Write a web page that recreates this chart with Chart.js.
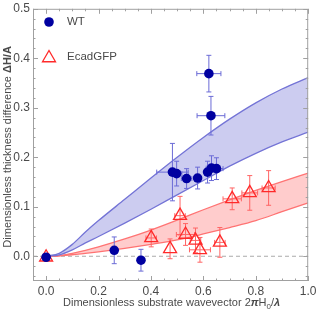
<!DOCTYPE html>
<html>
<head>
<meta charset="utf-8">
<script src="https://cdn.jsdelivr.net/npm/chart.js@4/dist/chart.umd.min.js"></script>
<style>
  html, body { margin: 0; padding: 0; background: #fff; }
  #wrap { width: 317px; height: 311px; }
</style>
</head>
<body>
<div id="wrap"><canvas id="chart" width="317" height="311"></canvas></div>
<script>
// measured points
const wtX    = [0.0, 0.26, 0.362, 0.482, 0.498, 0.536, 0.578, 0.616, 0.631, 0.650, 0.621, 0.629];
const wtY    = [-0.002, 0.012, -0.008, 0.170, 0.167, 0.157, 0.158, 0.170, 0.178, 0.177, 0.369, 0.284];
const wtYErr = [0.004, 0.027, 0.022, 0.058, 0.025, 0.020, 0.022, 0.022, 0.025, 0.022, 0.037, 0.039];
const wtXErr = [0.005, 0.0, 0.0, 0.060, 0.020, 0.020, 0.0, 0.010, 0.020, 0.025, 0.046, 0.053];

const ecX    = [0.0, 0.401, 0.473, 0.511, 0.532, 0.570, 0.587, 0.663, 0.710, 0.777, 0.849];
const ecY    = [-0.002, 0.037, 0.015, 0.082, 0.044, 0.032, 0.013, 0.028, 0.116, 0.128, 0.138];
const ecYErr = [0.004, 0.018, 0.020, 0.039, 0.022, 0.025, 0.025, 0.030, 0.022, 0.035, 0.035];
const ecXErr = [0.005, 0.020, 0.0, 0.020, 0.035, 0.020, 0.040, 0.020, 0.035, 0.030, 0.025];

// theory bands
const bandX   = [0, 0.05, 0.1, 0.15, 0.2, 0.3, 0.4, 0.5, 0.6, 0.7, 0.8, 0.9, 1.0];
const wtUpper = [0, 0.006, 0.024, 0.049, 0.072, 0.115, 0.158, 0.200, 0.240, 0.277, 0.310, 0.338, 0.361];
const wtLower = [0, 0.003, 0.013, 0.027, 0.040, 0.067, 0.095, 0.124, 0.153, 0.182, 0.208, 0.231, 0.251];
const ecUpper = [0, 0.001, 0.006, 0.012, 0.019, 0.035, 0.053, 0.073, 0.094, 0.114, 0.133, 0.151, 0.168];
const ecLower = [0, 0.001, 0.003, 0.006, 0.009, 0.016, 0.024, 0.033, 0.045, 0.058, 0.072, 0.090, 0.108];

const xTicks = [0, 0.2, 0.4, 0.6, 0.8, 1.0];
const yTicks = [0, 0.1, 0.2, 0.3, 0.4, 0.5];

const FONT = "'Liberation Sans', Arial, Helvetica, sans-serif";
const TXT = '#4a4a4a';

const pts = (xs, ys) => xs.map((x, i) => ({ x: x, y: ys[i] }));

const errorBars = {
  id: 'errorBars',
  beforeDatasetDraw(chart, args) {
    const ds = chart.data.datasets[args.index];
    if (!ds.yErr) return;
    const ctx = chart.ctx, xs = chart.scales.x, ys = chart.scales.y;
    ctx.save();
    ctx.strokeStyle = ds.errColor;
    ctx.lineWidth = 1;
    const cap = 2.5;
    ds.data.forEach((p, i) => {
      const px = xs.getPixelForValue(p.x), py = ys.getPixelForValue(p.y);
      const ey = ds.yErr[i], ex = ds.xErr[i];
      ctx.beginPath();
      if (ey > 0) {
        const t = ys.getPixelForValue(p.y + ey), b = ys.getPixelForValue(p.y - ey);
        ctx.moveTo(px, t); ctx.lineTo(px, b);
        ctx.moveTo(px - cap, t); ctx.lineTo(px + cap, t);
        ctx.moveTo(px - cap, b); ctx.lineTo(px + cap, b);
      }
      if (ex > 0) {
        const l = xs.getPixelForValue(p.x - ex), r = xs.getPixelForValue(p.x + ex);
        ctx.moveTo(l, py); ctx.lineTo(r, py);
        ctx.moveTo(l, py - cap); ctx.lineTo(l, py + cap);
        ctx.moveTo(r, py - cap); ctx.lineTo(r, py + cap);
      }
      ctx.stroke();
    });
    ctx.restore();
  }
};

const frameAndText = {
  id: 'frameAndText',
  afterDraw(chart) {
    const ctx = chart.ctx, a = chart.chartArea;
    const xs = chart.scales.x, ys = chart.scales.y;
    ctx.save();
    ctx.strokeStyle = '#a0a0a0';
    ctx.lineWidth = 1;
    ctx.strokeRect(a.left + 0.5, a.top + 0.5, a.right - a.left - 1, a.bottom - a.top - 1);
    ctx.beginPath();
    for (let k = -1; k <= 20; k++) {
      const v = k * 0.05;
      const len = (k % 4 === 0) ? 5 : 2.5;
      const px = Math.round(xs.getPixelForValue(v)) + 0.5;
      ctx.moveTo(px, a.bottom); ctx.lineTo(px, a.bottom - len);
      ctx.moveTo(px, a.top); ctx.lineTo(px, a.top + len);
    }
    for (let k = -2; k <= 25; k++) {
      const v = k * 0.02;
      const len = (k % 5 === 0) ? 5 : 2.5;
      const py = Math.round(ys.getPixelForValue(v)) + 0.5;
      ctx.moveTo(a.left, py); ctx.lineTo(a.left + len, py);
      ctx.moveTo(a.right, py); ctx.lineTo(a.right - len, py);
    }
    ctx.stroke();

    // legend
    const wt = chart.data.datasets[0], ec = chart.data.datasets[1];
    ctx.fillStyle = wt.backgroundColor;
    ctx.beginPath(); ctx.arc(49, 22, wt.pointRadius, 0, Math.PI * 2); ctx.fill();
    ctx.strokeStyle = ec.borderColor;
    ctx.fillStyle = 'rgba(255,255,255,0)';
    ctx.lineWidth = ec.pointBorderWidth;
    Chart.helpers.drawPoint(ctx, { pointStyle: 'triangle', radius: ec.pointRadius, borderWidth: ec.pointBorderWidth }, 49, 58);
    ctx.fillStyle = TXT;
    ctx.font = '11.5px ' + FONT;
    ctx.textBaseline = 'middle';
    ctx.textAlign = 'left';
    ctx.fillText('WT', 67, 22);
    ctx.fillText('EcadGFP', 67, 57);

    // x title
    const cx = (a.left + a.right) / 2 + 1;
    const base = 306;
    const parts = [
      ['Dimensionless substrate wavevector 2', '11px ' + FONT, 0],
      ['\u03c0', 'italic bold 11px ' + FONT, 0],
      ['H', '11px ' + FONT, 0],
      ['0', '8px ' + FONT, 2.5],
      ['/', '11px ' + FONT, 0],
      ['\u03bb', 'italic bold 11px ' + FONT, 0]
    ];
    let w = 0;
    parts.forEach(p => { ctx.font = p[1]; w += ctx.measureText(p[0]).width; });
    let x0 = cx - w / 2;
    ctx.textBaseline = 'alphabetic';
    parts.forEach(p => { ctx.font = p[1]; ctx.fillText(p[0], x0, base + p[2]); x0 += ctx.measureText(p[0]).width; });

    // y title
    ctx.save();
    ctx.translate(11, (a.top + a.bottom) / 2 + 2);
    ctx.rotate(-Math.PI / 2);
    const yparts = [
      ['Dimensionless thickness difference ', '11px ' + FONT],
      ['\u0394H/A', 'bold 11px ' + FONT]
    ];
    w = 0;
    yparts.forEach(p => { ctx.font = p[1]; w += ctx.measureText(p[0]).width; });
    x0 = -w / 2;
    yparts.forEach(p => { ctx.font = p[1]; ctx.fillText(p[0], x0, 0); x0 += ctx.measureText(p[0]).width; });
    ctx.restore();
    ctx.restore();
  }
};

new Chart(document.getElementById('chart'), {
  type: 'scatter',
  data: {
    datasets: [
      {
        label: 'WT',
        data: pts(wtX, wtY),
        yErr: wtYErr, xErr: wtXErr, errColor: '#6b6bd6',
        pointStyle: 'circle', pointRadius: 4.8, pointBorderWidth: 0,
        backgroundColor: '#0000a0', borderColor: '#0000a0'
      },
      {
        label: 'EcadGFP',
        data: pts(ecX, ecY),
        yErr: ecYErr, xErr: ecXErr, errColor: '#ff6464',
        pointStyle: 'triangle', pointRadius: 7.5, pointBorderWidth: 1.3,
        backgroundColor: 'rgba(255,255,255,0)', borderColor: '#ff2a2a'
      },
      {
        type: 'line', data: pts(bandX, wtUpper), borderColor: '#7474d6', borderWidth: 1.3,
        pointRadius: 0, cubicInterpolationMode: 'monotone',
        fill: '+1', backgroundColor: 'rgba(120,120,215,0.38)'
      },
      {
        type: 'line', data: pts(bandX, wtLower), borderColor: '#7474d6', borderWidth: 1.3,
        pointRadius: 0, cubicInterpolationMode: 'monotone', fill: false
      },
      {
        type: 'line', data: pts(bandX, ecUpper), borderColor: '#ff7474', borderWidth: 1.3,
        pointRadius: 0, cubicInterpolationMode: 'monotone',
        fill: '+1', backgroundColor: 'rgba(255,110,110,0.35)'
      },
      {
        type: 'line', data: pts(bandX, ecLower), borderColor: '#ff7474', borderWidth: 1.3,
        pointRadius: 0, cubicInterpolationMode: 'monotone', fill: false
      },
      {
        type: 'line', data: [{ x: -0.05, y: 0 }, { x: 1.0, y: 0 }],
        borderColor: '#aaaaaa', borderWidth: 1, borderDash: [4, 3], pointRadius: 0, fill: false
      }
    ]
  },
  plugins: [errorBars, frameAndText],
  options: {
    responsive: false,
    animation: false,
    events: [],
    layout: { padding: { left: 0, right: 7, top: 5, bottom: 0 } },
    plugins: { legend: { display: false }, tooltip: { enabled: false } },
    scales: {
      x: {
        type: 'linear', min: -0.05, max: 1.0,
        grid: { display: false, drawTicks: false, tickLength: 0 }, border: { display: false },
        afterBuildTicks: s => { s.ticks = xTicks.map(v => ({ value: v })); },
        afterFit: s => { s.height = 30; s.paddingLeft = 0; s.paddingRight = 0; },
        ticks: {
          padding: 3, color: TXT, font: { family: FONT, size: 12 },
          maxRotation: 0, callback: v => v.toFixed(1)
        }
      },
      y: {
        type: 'linear', min: -0.05, max: 0.5,
        grid: { display: false, drawTicks: false, tickLength: 0 }, border: { display: false },
        afterBuildTicks: s => { s.ticks = yTicks.map(v => ({ value: v })); },
        afterFit: s => { s.width = 33; s.paddingTop = 0; s.paddingBottom = 0; },
        ticks: {
          padding: 3, color: TXT, font: { family: FONT, size: 12 },
          callback: v => v.toFixed(1)
        }
      }
    }
  }
});
</script>
</body>
</html>
